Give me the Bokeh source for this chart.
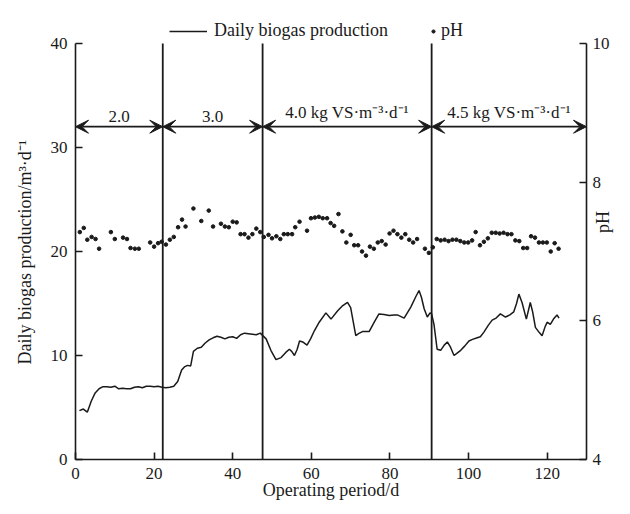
from bokeh.plotting import figure
from bokeh.models import (Range1d, LinearAxis, Arrow, VeeHead, Legend, Title,
                          LegendItem, FixedTicker, ColumnDataSource)
from bokeh.core.properties import value
from bokeh.embed import file_html
from bokeh.resources import INLINE
import math

FONT = "Liberation Serif"
INK = "#1a1a1a"

# ---- data ----
gas_day = [1.0, 2.0, 3.0, 4.0, 5.0, 6.0, 7.0, 8.0, 9.0, 10.0, 11.0, 12.0, 13.0,
           14.0, 15.0, 16.0, 17.0, 18.0, 19.0, 20.0, 21.0, 22.0, 23.0, 24.0,
           25.0, 26.0, 27.0, 27.7, 28.5, 29.3, 30.0, 31.0, 32.0, 33.0, 34.0,
           35.0, 36.0, 37.0, 38.0, 39.0, 40.0, 41.0, 42.0, 43.0, 44.0, 45.0,
           46.0, 47.0, 48.5, 49.7, 51.0, 52.3, 53.5, 54.4, 55.0, 55.7, 56.4,
           57.0, 57.8, 58.9, 59.8, 60.8, 62.0, 63.7, 65.0, 66.7, 68.0, 69.2,
           70.0, 71.3, 72.0, 73.0, 74.7, 76.0, 77.2, 78.5, 79.8, 81.0, 81.9,
           83.6, 85.3, 86.5, 87.4, 88.0, 88.7, 89.5, 90.2, 90.6, 91.2, 92.0,
           92.9, 93.8, 94.6, 95.4, 96.3, 97.0, 98.0, 99.0, 100.1, 101.0, 102.2,
           103.0, 103.9, 105.0, 106.0, 107.0, 108.1, 109.4, 110.5, 111.5, 112.2,
           112.8, 113.6, 114.7, 115.7, 116.3, 117.0, 118.0, 118.7, 119.5, 120.0,
           120.8, 121.6, 122.5, 123.0]
gas_val = [4.7, 4.85, 4.55, 5.6, 6.4, 6.8, 7.0, 7.0, 6.95, 7.05, 6.8, 6.85, 6.8,
           6.8, 6.95, 7.0, 6.9, 7.05, 7.05, 7.0, 7.05, 6.95, 6.9, 6.95,
           7.05, 7.5, 8.6, 8.9, 9.05, 9.0, 10.4, 10.7, 10.8, 11.2, 11.5,
           11.7, 11.85, 11.75, 11.6, 11.75, 11.8, 11.65, 12.0, 12.15, 12.1, 12.05,
           12.0, 12.15, 11.6, 10.5, 9.6, 9.8, 10.3, 10.6, 10.4, 10.0, 10.6,
           11.4, 11.3, 11.0, 11.6, 12.4, 13.2, 14.1, 13.5, 14.3, 14.8, 15.1,
           14.6, 11.9, 12.1, 12.3, 12.3, 13.2, 14.0, 13.95, 13.85, 13.9, 13.9,
           13.6, 14.65, 15.6, 16.25, 15.6, 14.5, 13.7, 14.1, 14.0, 13.0, 10.6,
           10.5, 11.0, 11.3, 10.8, 10.0, 10.2, 10.5, 10.9, 11.4, 11.55, 11.7,
           11.8, 12.25, 12.9, 13.4, 13.6, 14.0, 13.7, 13.9, 14.2, 15.0,
           15.9, 15.1, 13.5, 15.1, 14.2, 12.7, 12.2, 11.9, 12.8, 13.2,
           13.0, 13.5, 13.9, 13.6]

ph_day = [1.1, 2.1, 3.0, 4.1, 5.1, 6.0, 9.0, 10.0, 12.1, 13.1, 14.0, 15.1, 16.1,
          19.0, 20.0, 21.0, 21.9, 23.0, 24.0, 25.0, 26.1, 27.1, 28.0, 30.0, 32.0,
          33.9, 35.0, 37.0, 38.0, 39.0, 40.0, 41.0, 42.0, 43.0, 44.0, 45.0, 46.0,
          47.0, 47.9, 49.1, 50.0, 51.1, 52.1, 53.0, 54.0, 55.1, 55.9, 57.0, 58.9,
          59.9, 60.9, 61.9, 62.9, 64.0, 64.9, 65.8, 66.9, 67.9, 68.9, 70.0, 70.9,
          71.9, 72.9, 73.9, 74.9, 75.9, 76.9, 77.9, 78.9, 79.9, 80.9, 81.9, 82.9,
          83.9, 84.9, 85.9, 86.9, 88.9, 89.9, 90.9, 91.9, 92.9, 93.9, 94.9, 95.9,
          96.9, 97.9, 98.9, 99.9, 100.9, 101.8, 102.9, 103.9, 104.9, 105.9, 106.9,
          107.9, 108.9, 109.9, 110.9, 111.9, 112.9, 113.9, 114.9, 115.9, 116.9,
          117.9, 118.9, 119.9, 120.9, 121.9, 122.9]
ph_val = [7.28, 7.34, 7.17, 7.21, 7.18, 7.04, 7.28, 7.18, 7.20, 7.18, 7.05, 7.04, 7.04,
          7.13, 7.07, 7.12, 7.14, 7.10, 7.17, 7.21, 7.35, 7.46, 7.36, 7.62, 7.44,
          7.59, 7.36, 7.40, 7.36, 7.35, 7.43, 7.42, 7.25, 7.25, 7.20, 7.25, 7.33,
          7.28, 7.21, 7.24, 7.19, 7.22, 7.18, 7.25, 7.25, 7.25, 7.35, 7.43, 7.30,
          7.48, 7.49, 7.50, 7.48, 7.48, 7.41, 7.37, 7.54, 7.29, 7.13, 7.24, 7.09,
          7.09, 7.00, 6.94, 7.07, 7.04, 7.13, 7.15, 7.10, 7.26, 7.30, 7.25, 7.20,
          7.25, 7.17, 7.13, 7.18, 7.04, 6.98, 7.06, 7.18, 7.16, 7.17, 7.15, 7.17,
          7.17, 7.15, 7.13, 7.13, 7.16, 7.28, 7.09, 7.14, 7.19, 7.27, 7.27,
          7.26, 7.27, 7.25, 7.25, 7.16, 7.15, 7.05, 7.05, 7.22, 7.20,
          7.13, 7.13, 7.13, 7.00, 7.12, 7.04]

phase_edges = [0, 22.2, 47.6, 90.6, 130]
phase_labels = ["2.0", "3.0", "4.0 kg VS\u00b7m\u207b\u00b3\u00b7d\u207b\u00b9",
                "4.5 kg VS\u00b7m\u207b\u00b3\u00b7d\u207b\u00b9"]
arrow_level = 32.0

x_ticks = [0, 20, 40, 60, 80, 100, 120]
gas_ticks = [0, 10, 20, 30, 40]
ph_ticks = [4, 6, 8, 10]
gas_lim = (0, 40)
ph_lim = (4, 10)

# ---- layout geometry (pixels) ----
W, H = 630, 514
BORDER_L, BORDER_R, BORDER_T, BORDER_B = 74, 44, 6, 55
AXIS_PX = 416          # pixel height of the 0-40 axis
TOP_PAD = 37           # free band above the axes, used by the legend
scale = (AXIS_PX + TOP_PAD) / AXIS_PX
LEFT_TITLE_OFFSET = 95  # px from the frame bottom to the start of the left title

p = figure(width=W, height=H, output_backend="svg", toolbar_location=None,
           x_range=Range1d(0, 130),
           y_range=Range1d(gas_lim[0], gas_lim[0] + (gas_lim[1] - gas_lim[0]) * scale),
           min_border_left=BORDER_L, min_border_right=BORDER_R,
           min_border_top=BORDER_T, min_border_bottom=BORDER_B,
           background_fill_color="white", border_fill_color="white")
p.outline_line_color = None
p.grid.visible = False
p.extra_y_ranges = {"ph": Range1d(ph_lim[0], ph_lim[0] + (ph_lim[1] - ph_lim[0]) * scale)}

def style_axis(ax, standoff, label_standoff):
    ax.axis_line_color = INK
    ax.axis_line_width = 1.6
    ax.major_tick_line_color = INK
    ax.major_tick_line_width = 1.6
    ax.major_tick_in = 7
    ax.major_tick_out = 0
    ax.minor_tick_line_color = None
    ax.major_label_text_font = FONT
    ax.major_label_text_font_size = "17px"
    ax.major_label_text_color = INK
    ax.axis_label_text_font = FONT
    ax.axis_label_text_font_size = "18px"
    ax.axis_label_text_font_style = "normal"
    ax.axis_label_text_color = INK
    ax.major_label_standoff = standoff
    ax.axis_label_standoff = label_standoff

xa = p.xaxis[0]
xa.ticker = FixedTicker(ticks=x_ticks)
xa.axis_label = "Operating period/d"
style_axis(xa, 8, -2)

ya = p.yaxis[0]
ya.ticker = FixedTicker(ticks=gas_ticks)
ya.bounds = gas_lim
style_axis(ya, 8, 0)

ra = LinearAxis(y_range_name="ph", ticker=FixedTicker(ticks=ph_ticks), axis_label="pH",
                bounds=ph_lim)
style_axis(ra, 6, -10)
ra.axis_label_orientation = math.pi / 2
p.add_layout(ra, "right")

# left axis title, centred on the 0-40 axis
p.add_layout(Title(text="Daily biogas production/m\u00b3\u00b7d\u207b\u00b9", align="left",
                   offset=LEFT_TITLE_OFFSET, standoff=25, text_font=FONT,
                   text_font_size="18px", text_font_style="normal",
                   text_color=INK), "left")

# phase boundaries (full height of the axes)
bnd = phase_edges[1:-1]
p.segment(x0=bnd, y0=[gas_lim[0]] * len(bnd), x1=bnd, y1=[gas_lim[1]] * len(bnd),
          line_color=INK, line_width=1.8)

# arrows between boundaries
for a, b in zip(phase_edges[:-1], phase_edges[1:]):
    p.add_layout(Arrow(start=VeeHead(size=13, fill_color=INK, line_color=INK),
                       end=VeeHead(size=13, fill_color=INK, line_color=INK),
                       x_start=a, y_start=arrow_level, x_end=b, y_end=arrow_level,
                       line_color=INK, line_width=1.8))

mids = [(a + b) / 2 for a, b in zip(phase_edges[:-1], phase_edges[1:])]
src = ColumnDataSource(dict(x=mids, y=[arrow_level] * len(mids), t=phase_labels))
p.text(x="x", y="y", text="t", source=src, text_font=value(FONT),
       text_font_size="17px", text_color=INK, text_align="center",
       text_baseline="bottom", y_offset=-5)

line_r = p.line(gas_day, gas_val, line_color=INK, line_width=1.5)
ph_r = p.scatter(ph_day, ph_val, y_range_name="ph", size=3.6, color=INK)

# legend in the free band above the axes
LEG_Y = AXIS_PX + 2     # px above the frame bottom
def add_legend(label, rend, x, gw, standoff):
    lg = Legend(items=[LegendItem(label=label, renderers=[rend])],
                location=(x, LEG_Y), orientation="horizontal",
                glyph_width=gw, glyph_height=20, label_height=20,
                label_standoff=standoff, padding=0, margin=0, spacing=0,
                border_line_color=None, background_fill_alpha=0,
                label_text_font=FONT, label_text_font_size="18px",
                label_text_color=INK)
    p.add_layout(lg, "center")

add_legend("Daily biogas production", line_r, 94, 38, 7)
add_legend("pH", ph_r, 354, 8, 4)

open("out.html", "w").write(file_html(p, INLINE))
